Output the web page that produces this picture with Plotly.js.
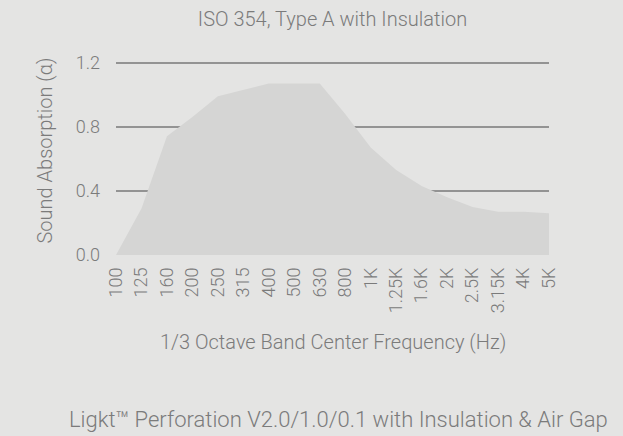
<!DOCTYPE html>
<html>
<head>
<meta charset="utf-8">
<script src="https://cdn.plot.ly/plotly-3.0.1.min.js"></script>
<style>html,body{margin:0;padding:0;background:#e4e4e3;}#chart{width:623px;height:436px;}</style>
</head>
<body>
<div id="chart"></div>
<script>
const frequencies = ["100","125","160","200","250","315","400","500","630","800","1K","1.25K","1.6K","2K","2.5K","3.15K","4K","5K"];
const absorption = [0.0, 0.29, 0.74, 0.86, 0.99, 1.03, 1.07, 1.07, 1.07, 0.88, 0.67, 0.53, 0.43, 0.36, 0.30, 0.27, 0.27, 0.26];
const yTicks = [0, 0.4, 0.8, 1.2];
const yTickText = ["0.0", "0.4", "0.8", "1.2"];

const textColor = "#7b7b7b";
const fontFam = "Roboto, 'Open Sans', sans-serif";

const trace = {
  x: frequencies,
  y: absorption,
  type: "scatter",
  mode: "lines",
  fill: "tozeroy",
  fillcolor: "#d5d5d4",
  line: {color: "rgba(0,0,0,0)", width: 0},
  hoverinfo: "x+y"
};

const PH = 194; // plot height in px
function py(pix) { return (255 - pix) / PH; }
function px(pix) { return (pix - 116) / 433; }

const layout = {
  width: 623,
  height: 436,
  paper_bgcolor: "#e4e4e3",
  plot_bgcolor: "#e4e4e3",
  margin: {l: 116, r: 74, t: 61, b: 181},
  showlegend: false,
  font: {family: fontFam, color: textColor, size: 18, weight: 300},
  title: {
    text: "ISO 354, Type A with Insulation",
    font: {family: fontFam, size: 20, color: textColor, weight: 300},
    xref: "paper", x: 0.5, xanchor: "center",
    yref: "container", y: 1 - 19/436, yanchor: "middle"
  },
  xaxis: {
    type: "category",
    range: [0, frequencies.length - 1],
    tickangle: -90,
    showgrid: false,
    zeroline: false,
    showline: false,
    ticks: "",
    ticklabelstandoff: 8,
    tickfont: {family: fontFam, size: 18, color: textColor, weight: 300}
  },
  yaxis: {
    range: [0, 1.21],
    tickvals: yTicks,
    ticktext: yTickText,
    showgrid: true,
    gridcolor: "#939393",
    gridwidth: 2,
    zeroline: false,
    showline: false,
    ticks: "",
    ticklabelstandoff: 15,
    tickfont: {family: fontFam, size: 18, color: textColor, weight: 300}
  },
  annotations: [
    {
      text: "1/3 Octave Band Center Frequency (Hz)",
      xref: "paper", yref: "paper",
      x: px(332.5), y: py(342),
      xanchor: "center", yanchor: "middle",
      showarrow: false,
      font: {family: fontFam, size: 20, color: textColor, weight: 300}
    },
    {
      text: "Sound Absorption (α)",
      xref: "paper", yref: "paper",
      x: px(44), y: py(150.5),
      xanchor: "center", yanchor: "middle",
      textangle: -90,
      showarrow: false,
      font: {family: fontFam, size: 20, color: textColor, weight: 300}
    },
    {
      text: "Ligkt™ Perforation V2.0/1.0/0.1 with Insulation & Air Gap",
      xref: "paper", yref: "paper",
      x: px(338), y: py(419),
      xanchor: "center", yanchor: "middle",
      showarrow: false,
      font: {family: fontFam, size: 22, color: textColor, weight: 300}
    }
  ]
};

Plotly.newPlot("chart", [trace], layout, {displayModeBar: false, staticPlot: true});
</script>
</body>
</html>
